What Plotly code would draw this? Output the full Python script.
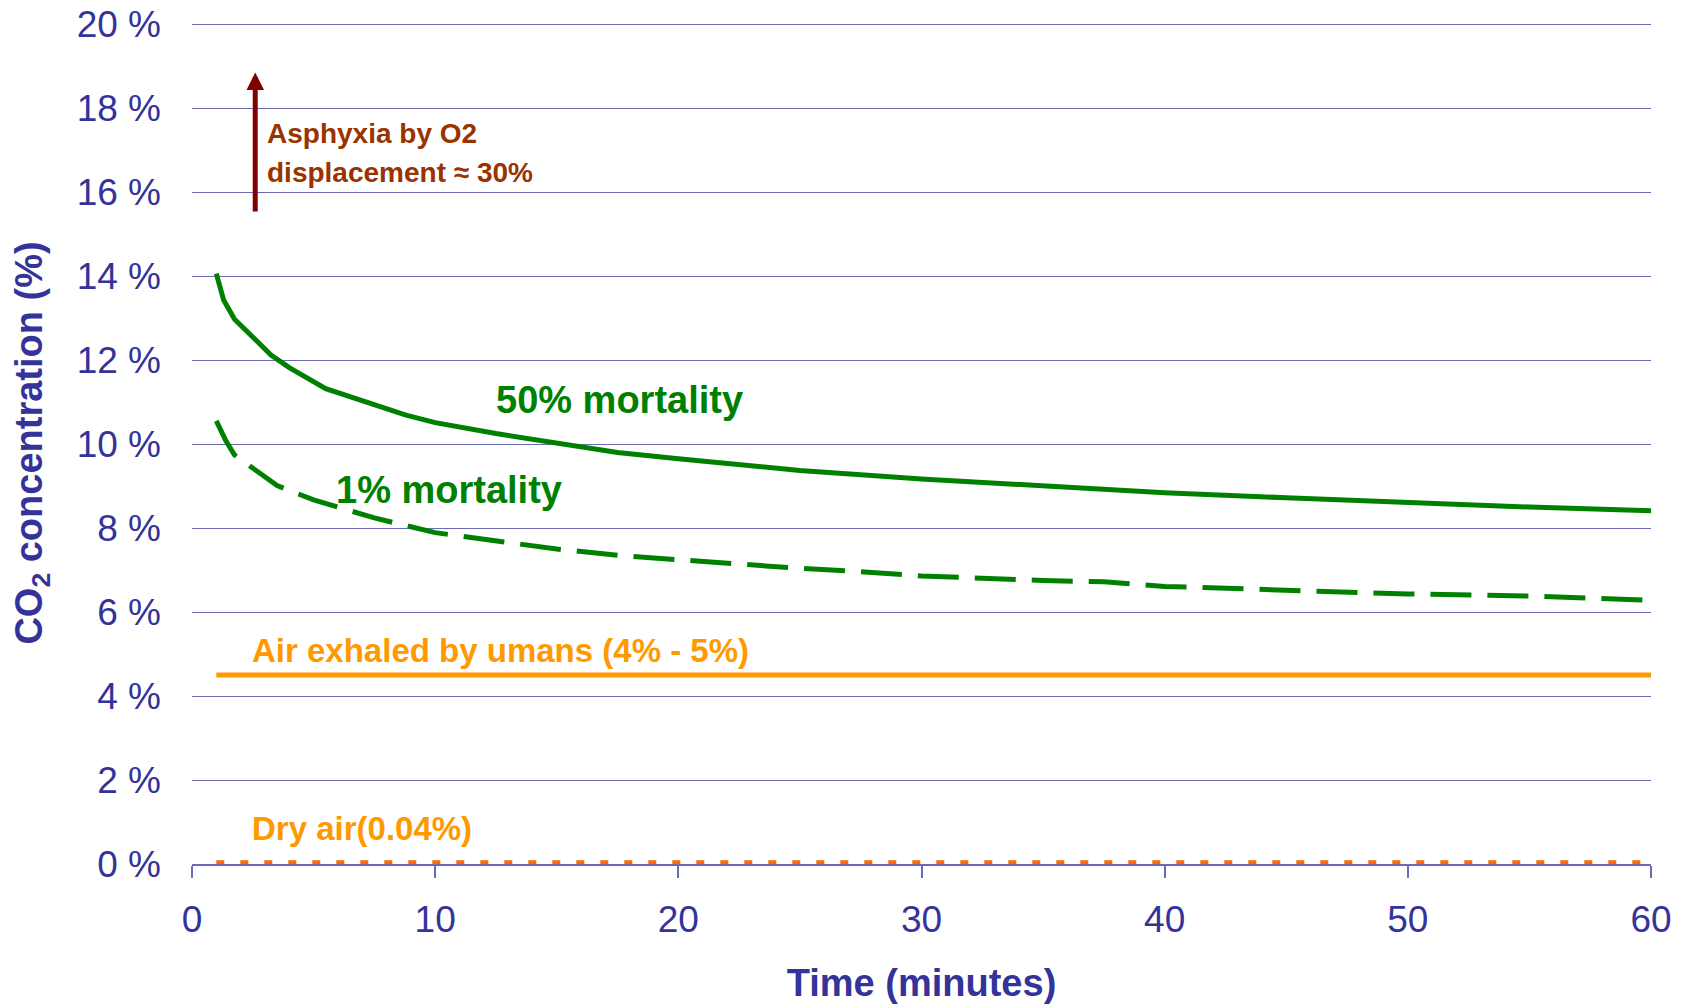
import plotly.graph_objects as go

# ---- data ----
time_50 = [1, 1.3, 1.75, 3.25, 4, 5.5, 8.8, 10, 12.5, 15, 17.5, 20, 25, 30, 35, 40, 45, 50, 55, 60]
co2_50 = [14.06, 13.43, 12.97, 12.12, 11.82, 11.32, 10.69, 10.51, 10.25, 10.02, 9.80, 9.65, 9.37,
          9.17, 8.99, 8.84, 8.72, 8.60, 8.50, 8.41]

time_1 = [1, 1.4, 1.75, 3.5, 5, 7.5, 10, 12.5, 15, 17.5, 20, 22, 25, 27, 30, 35, 37.5, 40, 45, 50, 55, 60]
co2_1 = [10.55, 10.07, 9.74, 9.01, 8.67, 8.24, 7.89, 7.69, 7.50, 7.35, 7.24, 7.17, 7.04, 6.98,
         6.86, 6.75, 6.72, 6.61, 6.51, 6.43, 6.38, 6.28]

time_ref = [1, 60]
exhaled = [4.5, 4.5]
dry_air = [0.04, 0.04]

y_ticks = [0, 2, 4, 6, 8, 10, 12, 14, 16, 18, 20]
y_tick_labels = ["0 %", "2 %", "4 %", "6 %", "8 %", "10 %", "12 %", "14 %", "16 %", "18 %", "20 %"]
x_ticks = [0, 10, 20, 30, 40, 50, 60]
x_tick_labels = ["0", "10", "20", "30", "40", "50", "60"]

arrow_x = 2.6
arrow_from = 15.5
arrow_to = 18.85

# ---- styling ----
FONT = "Arial, 'Liberation Sans', sans-serif"
AXIS_COLOR = "#333399"
GRID_COLOR = "#6b6bb5"
GREEN = "#008000"
ORANGE = "#ff9900"
DOT_ORANGE = "#ff6600"
MAROON = "#800000"
BROWN = "#993300"

fig = go.Figure()

fig.add_trace(go.Scatter(x=time_ref, y=dry_air, mode="lines",
                         line=dict(color=DOT_ORANGE, width=4, dash="8px,16px"),
                         name="Dry air", hoverinfo="skip"))
fig.add_trace(go.Scatter(x=time_ref, y=exhaled, mode="lines",
                         line=dict(color=ORANGE, width=5),
                         name="Air exhaled", hoverinfo="skip"))
fig.add_trace(go.Scatter(x=time_1, y=co2_1, mode="lines",
                         line=dict(color=GREEN, width=5, dash="41px,16px"),
                         name="1% mortality"))
fig.add_trace(go.Scatter(x=time_50, y=co2_50, mode="lines",
                         line=dict(color=GREEN, width=5),
                         name="50% mortality"))

def label(text, x, y, color, size):
    fig.add_annotation(x=x, y=y, xref="x", yref="y", text=text, showarrow=False,
                       xanchor="left", yanchor="middle",
                       font=dict(family=FONT, size=size, color=color))

label("<b>Asphyxia by O2</b>", 3.0, 17.39, BROWN, 28)
label("<b>displacement ≈ 30%</b>", 3.0, 16.46, BROWN, 28)
label("<b>50% mortality</b>", 12.4, 11.05, GREEN, 38)
label("<b>1% mortality</b>", 5.85, 8.91, GREEN, 38)
label("<b>Air exhaled by umans (4% - 5%)</b>", 2.4, 5.08, ORANGE, 33)
label("<b>Dry air(0.04%)</b>", 2.4, 0.845, ORANGE, 33)

fig.add_annotation(x=arrow_x, y=arrow_to, ax=arrow_x, ay=arrow_from,
                   xref="x", yref="y", axref="x", ayref="y", text="",
                   showarrow=True, arrowhead=2, arrowsize=0.7, arrowwidth=5,
                   arrowcolor=MAROON, standoff=0)

fig.update_layout(
    width=1688, height=1006,
    margin=dict(l=192, r=37, t=22, b=142),
    paper_bgcolor="white", plot_bgcolor="white",
    showlegend=False,
    font=dict(family=FONT, color=AXIS_COLOR),
)

fig.update_xaxes(
    range=[0, 60], tickvals=x_ticks, ticktext=x_tick_labels, showgrid=False, zeroline=False,
    automargin=False,
    showline=True, linecolor=GRID_COLOR, linewidth=1.5,
    ticks="outside", ticklen=12, tickcolor=GRID_COLOR, tickwidth=1.5,
    tickfont=dict(family=FONT, size=37, color=AXIS_COLOR), ticklabelstandoff=10,
    title=dict(text="<b>Time (minutes)</b>", font=dict(family=FONT, size=38, color=AXIS_COLOR),
               standoff=30),
)

fig.update_yaxes(
    range=[0, 20.05], tickvals=y_ticks, ticktext=y_tick_labels, showgrid=True,
    automargin=False, ticklabeloverflow="allow",
    gridcolor=GRID_COLOR, gridwidth=1, zeroline=False, showline=False,
    ticks="", tickfont=dict(family=FONT, size=37, color=AXIS_COLOR), ticklabelstandoff=30,
    title=dict(text="<b>CO<sub>2</sub> concentration (%)</b>",
               font=dict(family=FONT, size=38, color=AXIS_COLOR), standoff=22),
)

fig.write_html("out.html", config={"displayModeBar": False},
               post_script="document.body.style.margin='0';document.body.style.overflow='hidden';")
